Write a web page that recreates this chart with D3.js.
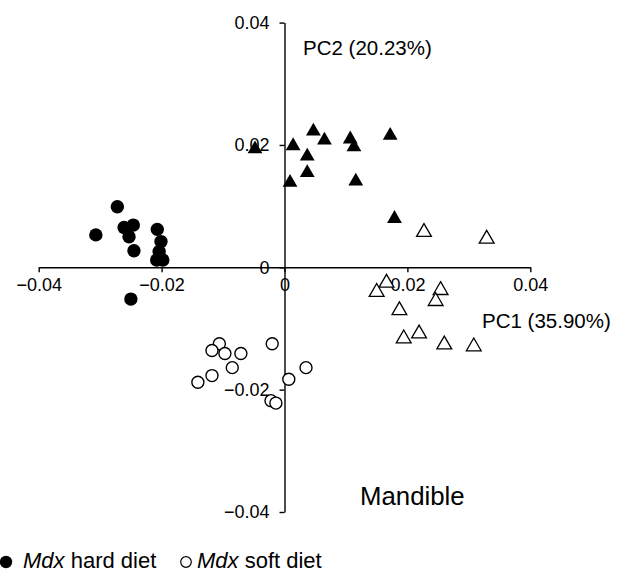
<!DOCTYPE html>
<html>
<head>
<meta charset="utf-8">
<script src="https://d3js.org/d3.v7.min.js"></script>
<style>
  body { margin: 0; background: #fff; }
  text { font-family: "Liberation Sans", Arial, sans-serif; fill: #000; }
</style>
</head>
<body>
<script>
// PC scores: [PC1, PC2]
var mdxHard = [
  [-0.0307, 0.0053], [-0.0272, 0.0099], [-0.0261, 0.0065], [-0.0246, 0.0069],
  [-0.0253, 0.0050], [-0.0245, 0.0027], [-0.0207, 0.0062], [-0.0201, 0.0042],
  [-0.0204, 0.0026], [-0.0208, 0.0012], [-0.0198, 0.0012], [-0.0250, -0.0052]
];
var mdxSoft = [
  [-0.0106, -0.0125], [-0.0118, -0.0136], [-0.0097, -0.0141], [-0.0071, -0.0141],
  [-0.0020, -0.0125], [-0.0085, -0.0164], [-0.0118, -0.0177], [-0.0141, -0.0188],
  [0.0035, -0.0164], [0.0007, -0.0183], [-0.0022, -0.0218], [-0.0014, -0.0222]
];
var wtHard = [
  [-0.0048, 0.0197], [0.0014, 0.0202], [0.0047, 0.0226], [0.0065, 0.0211],
  [0.0037, 0.0185], [0.0037, 0.0158], [0.0009, 0.0142], [0.0107, 0.0213],
  [0.0113, 0.0200], [0.0116, 0.0144], [0.0172, 0.0219], [0.0179, 0.0083]
];
var wtSoft = [
  [0.0227, 0.0061], [0.0329, 0.0050], [0.0166, -0.0022], [0.0150, -0.0037],
  [0.0254, -0.0034], [0.0246, -0.0052], [0.0187, -0.0067], [0.0194, -0.0113],
  [0.0219, -0.0105], [0.0260, -0.0123], [0.0308, -0.0126]
];
var ticks = [-0.04, -0.02, 0, 0.02, 0.04];

var width = 630, height = 575;

var svg = d3.select("body").append("svg")
    .attr("width", width)
    .attr("height", height);

var x = d3.scaleLinear().domain([-0.04, 0.04]).range([38.7, 530.3]);
var y = d3.scaleLinear().domain([-0.04, 0.04]).range([512, 22.6]);

function fmt(d) {
    if (d === 0) return "0";
    return (d < 0 ? "\u2212" : "") + Math.abs(d).toFixed(2);
}

// axes cross at the origin
svg.append("g")
    .attr("transform", "translate(0," + y(0) + ")")
    .call(d3.axisBottom(x).tickValues(ticks).tickFormat(fmt).tickSizeInner(5).tickSizeOuter(0).tickPadding(6));
svg.append("g")
    .attr("transform", "translate(" + x(0) + ",0)")
    .call(d3.axisLeft(y).tickValues(ticks).tickFormat(fmt).tickSizeInner(5).tickSizeOuter(0).tickPadding(10));

svg.selectAll(".domain, .tick line").attr("stroke", "#000").attr("stroke-width", 1.4);
svg.selectAll(".tick text")
    .style("font-family", "'Liberation Sans', Arial, sans-serif")
    .style("font-size", "18px");

// triangle centred on its bounding box
function tri(cx, cy) {
    var w = 7.4, h = 6.4;
    return "M" + cx + "," + (cy - h) + "L" + (cx + w) + "," + (cy + h) + "L" + (cx - w) + "," + (cy + h) + "Z";
}

svg.append("g").selectAll("path")
    .data(wtSoft).enter().append("path")
    .attr("d", function (d) { return tri(x(d[0]), y(d[1])); })
    .attr("fill", "#fff").attr("stroke", "#000").attr("stroke-width", 1.3);

svg.append("g").selectAll("path")
    .data(wtHard).enter().append("path")
    .attr("d", function (d) { return tri(x(d[0]), y(d[1])); })
    .attr("fill", "#000");

svg.append("g").selectAll("circle")
    .data(mdxSoft).enter().append("circle")
    .attr("cx", function (d) { return x(d[0]); })
    .attr("cy", function (d) { return y(d[1]); })
    .attr("r", 6)
    .attr("fill", "#fff").attr("stroke", "#000").attr("stroke-width", 1.4);

svg.append("g").selectAll("circle")
    .data(mdxHard).enter().append("circle")
    .attr("cx", function (d) { return x(d[0]); })
    .attr("cy", function (d) { return y(d[1]); })
    .attr("r", 6.7)
    .attr("fill", "#000");

// labels
svg.append("text").attr("x", 303).attr("y", 55).style("font-size", "20.5px").text("PC2 (20.23%)");
svg.append("text").attr("x", 482).attr("y", 328).style("font-size", "20.5px").text("PC1 (35.90%)");
svg.append("text").attr("x", 360).attr("y", 505).style("font-size", "25.8px").text("Mandible");

// legend
var leg = svg.append("g");
leg.append("circle").attr("cx", 6).attr("cy", 562).attr("r", 6.2).attr("fill", "#000");
var t1 = leg.append("text").attr("x", 23).attr("y", 568).style("font-size", "22px");
t1.append("tspan").style("font-style", "italic").text("Mdx");
t1.append("tspan").text(" hard diet");
leg.append("circle").attr("cx", 186).attr("cy", 562).attr("r", 5.3)
    .attr("fill", "#fff").attr("stroke", "#000").attr("stroke-width", 1.2);
var t2 = leg.append("text").attr("x", 197).attr("y", 568).style("font-size", "22px");
t2.append("tspan").style("font-style", "italic").text("Mdx");
t2.append("tspan").text(" soft diet");
</script>
</body>
</html>
